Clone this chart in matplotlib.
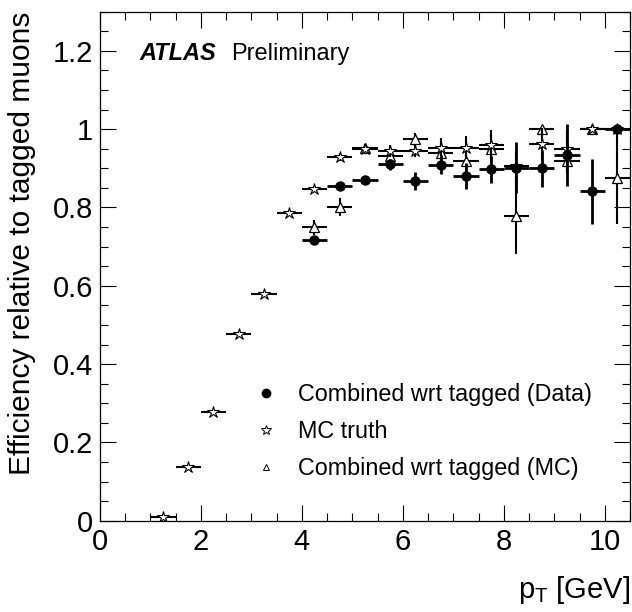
import matplotlib
matplotlib.use("Agg")
import matplotlib.pyplot as plt
from matplotlib.lines import Line2D
from matplotlib.ticker import MultipleLocator, FuncFormatter

plt.rcParams["font.family"] = ["Liberation Sans", "DejaVu Sans"]
plt.rcParams["mathtext.fontset"] = "custom"
plt.rcParams["mathtext.rm"] = "Liberation Sans"
plt.rcParams["mathtext.it"] = "Liberation Sans:italic"

# bin centres (GeV), half width 0.25
pt_truth = [1.25, 1.75, 2.25, 2.75, 3.25, 3.75, 4.25, 4.75, 5.25, 5.75,
            6.25, 6.75, 7.25, 7.75, 8.25, 8.75, 9.25, 9.75, 10.25]
eff_truth = [0.010, 0.137, 0.277, 0.477, 0.580, 0.787, 0.847, 0.928, 0.950, 0.945,
             0.944, 0.951, 0.953, 0.959, 0.905, 0.962, 0.948, 1.000, 1.000]
err_truth = [0.003, 0.005, 0.006, 0.007, 0.007, 0.007, 0.008, 0.010, 0.008, 0.015,
             0.015, 0.020, 0.030, 0.030, 0.040, 0.040, 0.050, 0.0, 0.0]

pt_comb = [4.25, 4.75, 5.25, 5.75, 6.25, 6.75, 7.25, 7.75, 8.25, 8.75, 9.25, 9.75, 10.25]
eff_data = [0.718, 0.854, 0.870, 0.910, 0.867, 0.909, 0.880, 0.897, 0.901, 0.900, 0.934, 0.842, 1.000]
err_data = [0.010, 0.010, 0.010, 0.015, 0.023, 0.024, 0.034, 0.034, 0.065, 0.047, 0.080, 0.083, 0.0]
eff_mc = [0.749, 0.800, 0.953, 0.931, 0.974, 0.938, 0.919, 0.948, 0.777, 1.000, 0.918, 1.000, 0.874]
err_mc = [0.020, 0.023, 0.010, 0.015, 0.017, 0.040, 0.040, 0.050, 0.096, 0.0, 0.030, 0.0, 0.115]

half_bin = 0.25
labels = ["Combined wrt tagged (Data)", "MC truth", "Combined wrt tagged (MC)"]

fig = plt.figure(figsize=(6.32, 6.12), dpi=100)
ax = fig.add_axes([0.158, 0.149, 0.839, 0.832])

ax.errorbar(pt_comb, eff_mc, xerr=half_bin, yerr=err_mc, fmt="^", ms=7.5,
            mfc="white", mec="black", mew=0.9, ecolor="black", elinewidth=1.5,
            capsize=0, zorder=2)
ax.errorbar(pt_truth, eff_truth, xerr=half_bin, yerr=err_truth, fmt="*", ms=9,
            mfc="white", mec="black", mew=0.8, ecolor="black", elinewidth=1.5,
            capsize=0, zorder=3)
ax.errorbar(pt_comb, eff_data, xerr=half_bin, yerr=err_data, fmt="o", ms=6.5,
            mfc="black", mec="black", ecolor="black", elinewidth=2,
            capsize=0, zorder=4)

ax.set_xlim(0, 10.5)
ax.set_ylim(0, 1.3)
ax.xaxis.set_major_locator(MultipleLocator(2))
ax.xaxis.set_minor_locator(MultipleLocator(0.5))
ax.yaxis.set_major_locator(MultipleLocator(0.2))
ax.yaxis.set_minor_locator(MultipleLocator(0.05))
fmt = FuncFormatter(lambda v, p: f"{v:g}")
ax.xaxis.set_major_formatter(fmt)
ax.yaxis.set_major_formatter(fmt)
ax.tick_params(which="both", direction="in", top=True, right=True, width=0.8,
               labelsize=21)
ax.tick_params(which="major", length=11.5)
ax.tick_params(which="minor", length=5.5)
ax.tick_params(axis="x", pad=5)
ax.tick_params(axis="y", pad=5)
for s in ax.spines.values():
    s.set_linewidth(0.9)

ax.set_ylabel("Efficiency relative to tagged muons", fontsize=21.5, loc="top")
ax.yaxis.set_label_coords(-0.12, 1.0)
ax.set_xlabel(r"p$_\mathregular{T}$ [GeV]", fontsize=21, loc="right")
ax.xaxis.set_label_coords(1.0, -0.105)

ax.text(0.075, 0.917, "ATLAS", transform=ax.transAxes, fontsize=17,
        fontweight="bold", fontstyle="italic", va="center")
ax.text(0.247, 0.917, "Preliminary", transform=ax.transAxes, fontsize=17,
        va="center")

handles = [
    Line2D([], [], ls="none", marker="o", ms=6, mfc="black", mec="black"),
    Line2D([], [], ls="none", marker="*", ms=7, mfc="white", mec="black", mew=0.7),
    Line2D([], [], ls="none", marker="^", ms=5, mfc="white", mec="black", mew=0.7),
]
ax.legend(handles, labels, loc="lower left", bbox_to_anchor=(0.27, 0.062),
          frameon=False, fontsize=16.8, handlelength=1.2, handletextpad=0.75,
          labelspacing=0.6, borderaxespad=0)

fig.savefig("out.png", dpi=100)
